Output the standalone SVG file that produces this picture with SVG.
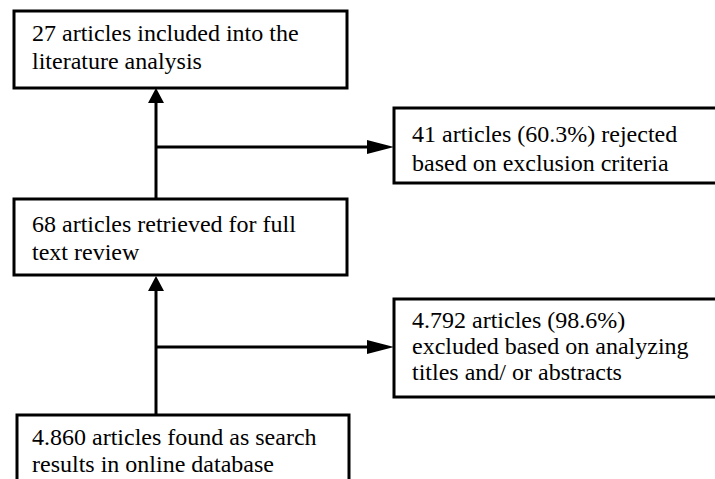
<svg xmlns="http://www.w3.org/2000/svg" width="715" height="479" viewBox="0 0 715 479">
  <style>
    .box { fill: #ffffff; stroke: #000000; stroke-width: 3; }
    .lbl { font-family: "Liberation Serif", "Times New Roman", serif; font-size: 24px; fill: #000000; }
    .wire { fill: none; stroke: #000000; stroke-width: 3; }
    .head { fill: #000000; stroke: none; }
  </style>
  <rect width="715" height="479" fill="#ffffff"/>

  <!-- connectors -->
  <g id="connectors">
    <line class="wire" x1="156" y1="198" x2="156" y2="100"/>
    <polygon class="head" points="156,88 148,103 164,103"/>
    <line class="wire" x1="156" y1="147" x2="370" y2="147"/>
    <polygon class="head" points="394,147 367,140 367,154"/>

    <line class="wire" x1="156" y1="415" x2="156" y2="288"/>
    <polygon class="head" points="156,276 148,291 164,291"/>
    <line class="wire" x1="156" y1="347" x2="370" y2="347"/>
    <polygon class="head" points="394,347 367,340 367,354"/>
  </g>

  <g id="included">
    <rect class="box" x="14" y="11" width="333" height="77"/>
    <text class="lbl" x="32" y="41">27 articles included into the</text>
    <text class="lbl" x="32" y="69">literature analysis</text>
  </g>

  <g id="rejected">
    <rect class="box" x="394" y="108" width="330" height="75"/>
    <text class="lbl" x="412" y="142">41 articles (60.3%) rejected</text>
    <text class="lbl" x="412" y="171">based on exclusion criteria</text>
  </g>

  <g id="retrieved">
    <rect class="box" x="14" y="199" width="333" height="76"/>
    <text class="lbl" x="32" y="232">68 articles retrieved for full</text>
    <text class="lbl" x="32" y="260">text review</text>
  </g>

  <g id="excluded">
    <rect class="box" x="394" y="299" width="330" height="98"/>
    <text class="lbl" x="412" y="328">4.792 articles (98.6%)</text>
    <text class="lbl" x="412" y="354">excluded based on analyzing</text>
    <text class="lbl" x="412" y="380">titles and/ or abstracts</text>
  </g>

  <g id="found">
    <rect class="box" x="17" y="415" width="332" height="80"/>
    <text class="lbl" x="32" y="445">4.860 articles found as search</text>
    <text class="lbl" x="32" y="472">results in online database</text>
  </g>
</svg>
